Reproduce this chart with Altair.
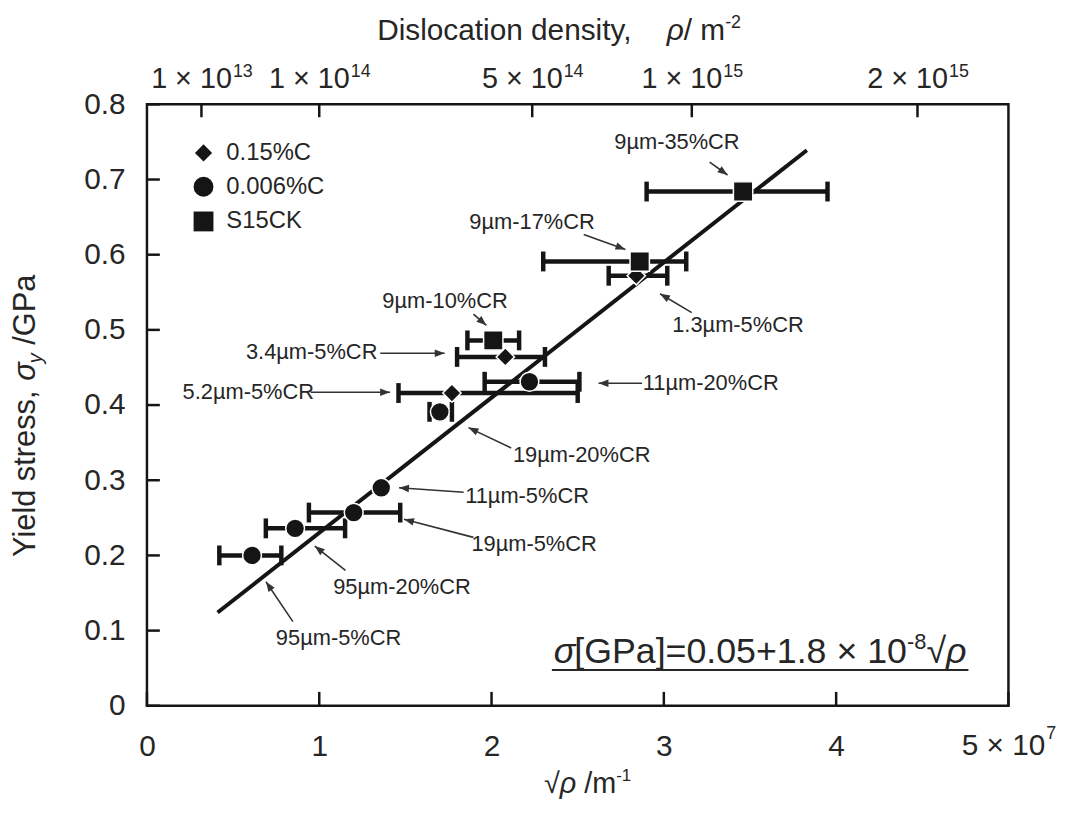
import math
import altair as alt
import pandas as pd

# ---------------- data ----------------
labels = ["95µm-5%CR", "95µm-20%CR", "19µm-5%CR", "11µm-5%CR", "19µm-20%CR", "11µm-20%CR",
          "5.2µm-5%CR", "3.4µm-5%CR", "1.3µm-5%CR", "9µm-10%CR", "9µm-17%CR", "9µm-35%CR"]
steel = ["0.006%C"] * 6 + ["0.15%C"] * 3 + ["S15CK"] * 3
sqrt_rho = [0.61, 0.86, 1.20, 1.36, 1.70, 2.22, 1.77, 2.08, 2.84, 2.01, 2.86, 3.46]      # x 1e7 m^-1
stress = [0.200, 0.236, 0.257, 0.290, 0.391, 0.431, 0.416, 0.464, 0.572, 0.486, 0.591, 0.684]  # GPa
bar_lo = [0.42, 0.69, 0.94, None, 1.64, 1.96, 1.46, 1.80, 2.68, 1.86, 2.30, 2.90]
bar_hi = [0.78, 1.15, 1.47, None, 1.77, 2.51, 2.50, 2.31, 3.02, 2.16, 3.13, 3.95]

fit_x = [0.41, 3.83]
fit_y = [0.124, 0.739]

legend_names = ["0.15%C", "0.006%C", "S15CK"]
legend_shapes = ["diamond", "circle", "square"]

x_ticks = [0, 1, 2, 3, 4, 5]
x_labeled = [0, 1, 2, 3, 4]
y_ticks = [0, 0.1, 0.2, 0.3, 0.4, 0.5, 0.6, 0.7, 0.8]
top_rho = [1e13, 1e14, 5e14, 1e15, 2e15]
top_mant = ["1", "1", "5", "1", "2"]
top_exp = ["13", "14", "14", "15", "15"]

# annotation label centres and arrows (data units)
ann_x = [1.112, 1.48, 2.247, 2.206, 2.523, 3.272, 0.588, 0.956, 3.43, 1.73, 2.235, 3.076]
ann_y = [0.090, 0.158, 0.215, 0.279, 0.334, 0.429, 0.417, 0.471, 0.507, 0.538, 0.644, 0.750]
arr_x0 = [0.847, 1.152, 1.895, 1.838, 2.114, 2.874, 0.950, 1.354, 3.162, 1.895, 2.535, 3.266]
arr_y0 = [0.112, 0.180, 0.224, 0.284, 0.343, 0.429, 0.417, 0.469, 0.523, 0.521, 0.627, 0.723]
arr_x1 = [0.691, 0.974, 1.492, 1.463, 1.866, 2.621, 1.411, 1.728, 2.978, 1.970, 2.777, 3.370]
arr_y1 = [0.165, 0.2125, 0.248, 0.290, 0.370, 0.429, 0.417, 0.469, 0.548, 0.506, 0.607, 0.706]

# ---------------- layout / style ----------------
FONT = "Liberation Sans"
INK = "#151515"
TXT = "#262626"
W, H = 868, 606
XD, YD = [0, 5], [0, 0.8]
PX_X, PX_Y = W / (XD[1] - XD[0]), H / (YD[1] - YD[0])

CW = {" ": .278, ",": .278, ".": .278, "/": .278, "-": .333, "%": .889, "=": .584, "+": .584,
      "[": .278, "]": .278, "×": .584, "−": .584, "√": .549, "σ": .571, "ρ": .571, "µ": .576,
      "C": .722, "D": .722, "G": .778, "P": .667, "R": .722, "Y": .667,
      "a": .556, "c": .5, "d": .556, "e": .556, "i": .222, "l": .222, "m": .833, "n": .556,
      "o": .556, "r": .333, "s": .5, "t": .278, "y": .5}


def tw(s, size):
    return sum(CW.get(c, .556) for c in s) * size


ONE = pd.DataFrame({"k": [0]})

LBL = 30
SUP = 18
xs = alt.Scale(domain=XD, nice=False, zero=False)
ys = alt.Scale(domain=YD, nice=False, zero=False)
x_axis = alt.Axis(values=x_labeled, title=None, ticks=False, tickSize=0, domain=False, grid=False,
                  labelFlush=False, labelFontSize=LBL, labelPadding=26, labelColor=TXT, labelFont=FONT)
y_axis = alt.Axis(values=y_ticks, format=".1~f", title=None, ticks=False, tickSize=0, domain=False,
                  grid=False, labelFlush=False, labelFontSize=LBL, labelPadding=22, labelColor=TXT,
                  labelFont=FONT)


def X(f):
    return alt.X(f, type="quantitative", scale=xs, axis=x_axis)


def Y(f):
    return alt.Y(f, type="quantitative", scale=ys, axis=y_axis)


pts = pd.DataFrame({"label": labels, "steel": steel, "x": sqrt_rho, "y": stress,
                    "lo": bar_lo, "hi": bar_hi})
bars = pts.dropna(subset=["lo"])
caps = pd.concat([bars[["lo", "y"]].rename(columns={"lo": "cx"}),
                  bars[["hi", "y"]].rename(columns={"hi": "cx"})])

ann = pd.DataFrame({"t": labels, "lx": ann_x, "ly": ann_y,
                    "x0": arr_x0, "y0": arr_y0, "x1": arr_x1, "y1": arr_y1})
ann["ang"] = [math.degrees(math.atan2((b - a) * PX_X, (d - c) * PX_Y)) % 360
              for a, b, c, d in zip(arr_x0, arr_x1, arr_y0, arr_y1)]

fit = alt.Chart(pd.DataFrame({"x": fit_x, "y": fit_y})).mark_line(
    color=INK, strokeWidth=4).encode(x=X("x"), y=Y("y"))

ebar = alt.Chart(bars).mark_rule(color=INK, strokeWidth=4.5).encode(
    x=X("lo"), x2="hi", y=Y("y"))
ecap = alt.Chart(caps).mark_tick(color=INK, orient="vertical", size=20, thickness=4.5,
                                 opacity=1).encode(x=X("cx"), y=Y("y"))

points = alt.Chart(pts).mark_point(filled=True, opacity=1, stroke="white", strokeWidth=1.5).encode(
    x=X("x"), y=Y("y"),
    shape=alt.Shape("steel:N", scale=alt.Scale(domain=legend_names, range=legend_shapes), legend=None),
    size=alt.Size("steel:N", scale=alt.Scale(domain=legend_names, range=[340, 380, 480]), legend=None),
    color=alt.value(INK),
)

arr_lines = alt.Chart(ann).mark_rule(color="#333333", strokeWidth=1.6).encode(
    x=X("x0"), y=Y("y0"), x2="x1", y2="y1")
ARROW = "M0,0L0.38,1L-0.38,1Z"
arr_heads = alt.Chart(ann).mark_point(shape=ARROW, filled=True, opacity=1, size=400,
                                      color="#333333").encode(
    x=X("x1"), y=Y("y1"), angle=alt.Angle("ang:Q", scale=None))
ann_text = alt.Chart(ann).mark_text(fontSize=22, font=FONT, color=TXT, align="center",
                                    baseline="middle").encode(x=X("lx"), y=Y("ly"), text="t:N")

# inward ticks
tick_b = alt.Chart(pd.DataFrame({"v": x_ticks})).mark_rule(color=INK, strokeWidth=2.5).encode(
    x=X("v"), y=alt.value(H - 14), y2=alt.value(H))
tick_l = alt.Chart(pd.DataFrame({"v": y_ticks})).mark_rule(color=INK, strokeWidth=2.5).encode(
    y=Y("v"), x=alt.value(0), x2=alt.value(13))
top_df = pd.DataFrame({"v": [math.sqrt(r) / 1e7 for r in top_rho],
                       "m": [m + " × 10" for m in top_mant], "e": top_exp})
tick_t = alt.Chart(top_df).mark_rule(color=INK, strokeWidth=2.5).encode(
    x=X("v"), y=alt.value(0), y2=alt.value(13))

TOPL = 29
wb = tw("1 × 10", TOPL)
we = tw("13", SUP)
dxb = wb - (wb + we) / 2
top_base = alt.Chart(top_df).mark_text(fontSize=TOPL, font=FONT, color=TXT, align="right",
                                       baseline="alphabetic", dx=dxb).encode(
    x=X("v"), y=alt.value(-16), text="m:N")
top_sup = alt.Chart(top_df).mark_text(fontSize=SUP, font=FONT, color=TXT, align="left",
                                      baseline="alphabetic", dx=dxb + 1).encode(
    x=X("v"), y=alt.value(-28), text="e:N")

five = pd.DataFrame({"v": [5], "m": ["5 × 10"], "e": ["7"]})
wb5 = tw("5 × 10", LBL)
we5 = tw("7", SUP)
dx5 = wb5 - (wb5 + we5) / 2
bot_base = alt.Chart(five).mark_text(fontSize=LBL, font=FONT, color=TXT, align="right",
                                     baseline="top", dx=dx5).encode(
    x=X("v"), y=alt.value(H + 26), text="m:N")
bot_sup = alt.Chart(five).mark_text(fontSize=SUP, font=FONT, color=TXT, align="left",
                                    baseline="top", dx=dx5 + 1).encode(
    x=X("v"), y=alt.value(H + 19), text="e:N")


def run(pieces, x0, y0, vertical=False):
    """Lay out text pieces one after another; leading spaces become explicit gaps."""
    out = []
    pos = 0.0
    for text, size, italic, shift in pieces:
        stripped = text.lstrip(" ")
        pos += tw(text[:len(text) - len(stripped)], size)
        if vertical:
            x, y, ang = x0 - shift, y0 - pos, 270
        else:
            x, y, ang = x0 + pos, y0 - shift, 0
        out.append(alt.Chart(ONE).mark_text(
            text=stripped, fontSize=size, fontStyle="italic" if italic else "normal", align="left",
            baseline="alphabetic", angle=ang, font=FONT, color=TXT).encode(
            x=alt.value(x), y=alt.value(y)))
        pos += tw(stripped, size)
    return out


ytitle = run([("Yield stress, ", 31, False, 0), ("σ", 31, True, 0), ("y", 20, True, -7),
              (" /GPa", 31, False, 0)], -113, 456, vertical=True)
xtitle = run([("√", 29, False, 0), ("ρ", 29, True, 0), (" /m", 29, False, 0),
              ("-1", 17, False, 12)], 400, 694)
ttitle = run([("Dislocation density,", 30, False, 0), ("    ρ", 30, True, 0), ("/ m", 30, False, 0),
              ("-2", 18, False, 12)], 232, -65)
EQ = 36
eq = run([("σ", EQ, True, 0), ("[GPa]=0.05+1.8 × 10", EQ, False, 0), ("-8", 22, False, 14),
          ("√", EQ, False, 0), ("ρ", EQ, True, 0)], 410, 563)
eq_w = tw("σ[GPa]=0.05+1.8 × 10√ρ", EQ) + tw("-8", 22)
underline = alt.Chart(ONE).mark_rule(color=TXT, strokeWidth=2).encode(
    x=alt.value(408), x2=alt.value(410 + eq_w + 2), y=alt.value(570))

# legend
leg = []
leg_y = [49, 83, 118]
leg_sizes = [300, 400, 400]
for name, shp, sz, yy in zip(legend_names, legend_shapes, leg_sizes, leg_y):
    leg.append(alt.Chart(ONE).mark_point(shape=shp, size=sz, filled=True, opacity=1, color=INK).encode(
        x=alt.value(57), y=alt.value(yy)))
    leg.append(alt.Chart(ONE).mark_text(text=name, fontSize=24, font=FONT, color=TXT, align="left",
                                        baseline="middle").encode(x=alt.value(80), y=alt.value(yy)))

layers = [fit, ebar, ecap, arr_lines, arr_heads, points, ann_text, tick_b, tick_l, tick_t,
          top_base, top_sup, bot_base, bot_sup, underline] + ytitle + xtitle + ttitle + eq + leg

chart = alt.layer(*layers).properties(
    width=W, height=H,
    autosize=alt.AutoSizeParams(type="none"),
    padding={"left": 140, "top": 94, "right": 58, "bottom": 110},
).configure(font=FONT).configure_view(stroke=INK, strokeWidth=2.5)

chart.save("out.html", embed_options={"renderer": "svg", "actions": False})
